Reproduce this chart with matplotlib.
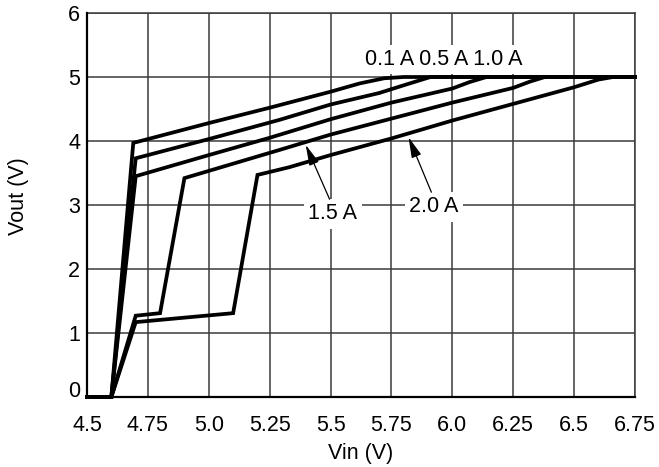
import matplotlib
matplotlib.use("Agg")
import matplotlib.pyplot as plt

plt.rcParams['font.family'] = ['Liberation Sans', 'DejaVu Sans']

# Data (Vin in V, Vout in V)
x_01 = [4.5, 4.6, 4.69, 5.0, 5.25, 5.5, 5.62, 5.72, 5.8, 6.75]
y_01 = [0, 0, 3.97, 4.28, 4.52, 4.77, 4.9, 4.98, 5.0, 5.0]

x_05 = [4.5, 4.6, 4.70, 5.0, 5.29, 5.5, 5.70, 5.80, 5.91, 6.75]
y_05 = [0, 0, 3.73, 4.03, 4.33, 4.57, 4.75, 4.87, 5.0, 5.0]

x_10 = [4.5, 4.6, 4.70, 5.0, 5.25, 5.5, 5.75, 6.0, 6.07, 6.14, 6.75]
y_10 = [0, 0, 3.45, 3.78, 4.05, 4.34, 4.6, 4.82, 4.92, 5.0, 5.0]

x_15 = [4.5, 4.6, 4.70, 4.80, 4.90, 5.29, 5.5, 5.75, 6.0, 6.25, 6.32, 6.38, 6.75]
y_15 = [0, 0, 1.27, 1.31, 3.42, 3.86, 4.1, 4.35, 4.6, 4.83, 4.93, 5.0, 5.0]

x_20 = [4.5, 4.6, 4.70, 5.10, 5.20, 5.33, 5.5, 5.75, 6.0, 6.25, 6.5, 6.6, 6.66, 6.75]
y_20 = [0, 0, 1.17, 1.31, 3.47, 3.59, 3.78, 4.04, 4.32, 4.58, 4.84, 4.96, 5.0, 5.0]

x_ticks = [4.5, 4.75, 5.0, 5.25, 5.5, 5.75, 6.0, 6.25, 6.5, 6.75]
x_tick_labels = ["4.5", "4.75", "5.0", "5.25", "5.5", "5.75", "6.0", "6.25", "6.5", "6.75"]
y_ticks = [0, 1, 2, 3, 4, 5, 6]
y_tick_labels = ["0", "1", "2", "3", "4", "5", "6"]

FS = 15.5
GRID = '#3a3a3a'

fig = plt.figure(figsize=(6.59, 4.67), dpi=100)
ax = fig.add_axes([87/659, 70/467, 548/659, 384/467])

for xs, ys in [(x_01, y_01), (x_05, y_05), (x_10, y_10), (x_15, y_15), (x_20, y_20)]:
    ax.plot(xs, ys, color='black', lw=2.7, solid_joinstyle='miter', zorder=3, clip_on=False)

ax.set_xlim(4.5, 6.75)
ax.set_ylim(0, 6)
ax.set_xticks(x_ticks)
ax.set_xticklabels(x_tick_labels)
ax.set_yticks(y_ticks)
ax.set_yticklabels(y_tick_labels)
ax.grid(True, color=GRID, lw=1.1, zorder=1)
ax.set_axisbelow(True)
ax.tick_params(axis='x', length=0, pad=13, labelsize=FS)
ax.tick_params(axis='y', length=0, pad=5, labelsize=FS)
ylabs = ax.get_yticklabels()
ylabs[0].set_verticalalignment('baseline')

for s in ['left', 'bottom']:
    ax.spines[s].set_color('black')
    ax.spines[s].set_linewidth(1.6)
    ax.spines[s].set_zorder(4)
for s in ['top', 'right']:
    ax.spines[s].set_color(GRID)
    ax.spines[s].set_linewidth(1.1)

ax.set_xlabel('Vin (V)', fontsize=FS)
ax.xaxis.set_label_coords(0.5, -0.146)
ax.xaxis.label.set_verticalalignment('center')
ax.set_ylabel('Vout (V)', fontsize=FS)
ax.yaxis.set_label_coords(-0.125, 0.523)
ax.yaxis.label.set_verticalalignment('center')

box = dict(facecolor='white', edgecolor='none', pad=3)
ax.text(5.965, 5.27, '0.1 A 0.5 A 1.0 A', fontsize=FS, ha='center', va='center', bbox=box, zorder=5)
ax.text(5.51, 2.86, '1.5 A', fontsize=FS, ha='center', va='center', bbox=box, zorder=5)
ax.text(5.925, 2.97, '2.0 A', fontsize=FS, ha='center', va='center', bbox=box, zorder=5)

aprops = dict(arrowstyle='-|>,head_length=0.9,head_width=0.22', color='black', lw=0.9,
              shrinkA=0, shrinkB=0, mutation_scale=14)
ax.annotate('', xy=(5.398, 3.94), xytext=(5.496, 3.09), arrowprops=aprops, zorder=6)
ax.annotate('', xy=(5.82, 4.06), xytext=(5.914, 3.20), arrowprops=aprops, zorder=6)

fig.savefig('out.png', dpi=100)
